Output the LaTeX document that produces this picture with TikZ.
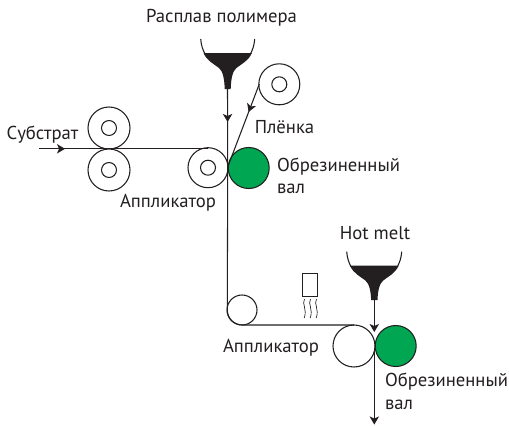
\documentclass[tikz,border=0pt]{standalone}
\usepackage{fontspec}
\setmainfont{PT Sans}
\usetikzlibrary{decorations.markings,arrows.meta}
\definecolor{rubber}{RGB}{0,166,81}
\definecolor{melt}{RGB}{35,31,32}
\tikzset{
  x=0.75pt,y=-0.75pt,
  every node/.style={inner sep=0pt,outer sep=0pt},
  roller/.style={circle,draw=melt,line width=0.8pt,fill=white,minimum size=#1*0.75pt*2},
  hub/.style={circle,draw=melt,line width=0.8pt,fill=white,minimum size=15*0.75pt},
  greenroller/.style={circle,draw=melt,line width=0.8pt,fill=rubber,minimum size=41*0.75pt},
  web/.style={draw=melt,line width=0.8pt},
  lbl/.style={font=\fontsize{14pt}{16pt}\selectfont,text=melt},
  tipstyle/.tip={Stealth[length=6pt,width=7pt,inset=1.5pt]},
  midarrow/.style={decoration={markings,mark=at position #1 with {\arrow{tipstyle}}},postaction={decorate}},
  funnelwall/.style={draw=melt,line width=0.8pt},
  funnelfill/.style={fill=melt,draw=none}
}
\begin{document}
\begin{tikzpicture}
\useasboundingbox (0,0) rectangle (509,425);
% webs (beneath rollers)
\coordinate (subIn) at (39,148.8);
\coordinate (subOut) at (208,148.8);
\coordinate (spoutA) at (227.5,88);
\coordinate (nipA) at (227.7,167);
\coordinate (filmTan) at (259.3,84);
\coordinate (cornerTop) at (227.3,310);
\coordinate (appTop) at (354,325);
\coordinate (spoutB) at (374.3,299);
\coordinate (nipB) at (374.3,332);
\coordinate (nipBlow) at (374.3,350);
\coordinate (webEnd) at (374.3,424.5);
% rollers
\node[roller=21] (nipU) at (109,128) {};
\node[hub] (nipUh) at (109,128) {};
\node[roller=21] (nipL) at (109,170) {};
\node[hub] (nipLh) at (109,170) {};
\node[roller=20] (appA) at (208,167.7) {};
\node[hub] (appAh) at (208,167.7) {};
\node[greenroller] (rubA) at (248.7,168) {};
\node[roller=20.5] (film) at (279.3,84.3) {};
\node[hub] (filmh) at (279.3,84.3) {};
\node[roller=15] (guide) at (242,310) {};
\node[roller=21] (appB) at (354,346) {};
\node[greenroller] (rubB) at (395.7,346) {};
% connectors
\draw[web,midarrow=0.154] (subIn) -- (subOut);
\draw[web,midarrow=0.43] (spoutA) -- (nipA);
\draw[web,midarrow=0.337] (filmTan) -- (nipA);
\draw[web] (nipA) -- (cornerTop) arc[start angle=180,end angle=90,radius=15] -- (appTop);
\draw[web,-tipstyle] (spoutB) -- (nipB);
\draw[web,-tipstyle] (nipBlow) -- (webEnd);
% funnel A
\draw[funnelwall] (200.7,39) .. controls (201.2,46) and (203,50) .. (205,54);
\draw[funnelwall] (254.7,39) .. controls (254.2,46) and (252.4,50) .. (250.4,54);
\fill[funnelfill] (203.5,53) -- (251.9,53) .. controls (248.4,61) and (241.4,64) .. (236.4,68)
  .. controls (232.4,71) and (230.9,80) .. (230.7,89) -- (224.7,89)
  .. controls (224.5,80) and (223,71) .. (219,68) .. controls (214,64) and (207,61) .. (203.5,53) -- cycle;
% funnel B
\draw[funnelwall] (346.7,251.7) .. controls (347.2,258.7) and (349,262.7) .. (351,266.7);
\draw[funnelwall] (401.7,251.7) .. controls (401.2,258.7) and (399.4,262.7) .. (397.4,266.7);
\fill[funnelfill] (349.9,265.5) -- (398.7,265.5) .. controls (395.2,273.5) and (388.2,276.5) .. (383.2,280.5)
  .. controls (379.2,283.5) and (377.7,292) .. (377.5,300) -- (371.1,300)
  .. controls (370.9,292) and (369.4,283.5) .. (365.4,280.5) .. controls (360.4,276.5) and (353.4,273.5) .. (349.9,265.5) -- cycle;
% heater
\node[draw=melt,line width=0.5pt,minimum width=15*0.75pt,minimum height=23.4*0.75pt] (heater) at (310.2,285) {};
\foreach \hx in {304.5,310.5,316.5}{
  \draw[draw=melt,line width=0.5pt] (\hx,299) .. controls (\hx-3,304) and (\hx+3,309) .. (\hx-0.3,318);
}
% labels
\node[lbl] (t1) at (221.5,18) {Расплав полимера};
\node[lbl] (t2) at (42.5,135) {Субстрат};
\node[lbl] (t3) at (284.5,127) {Плёнка};
\node[lbl,anchor=west] (t4) at (277,167) {Обрезиненный};
\node[lbl,anchor=west] (t5) at (277,189) {вал};
\node[lbl] (t6) at (168,202.7) {Аппликатор};
\node[lbl] (t7) at (375,233) {Hot melt};
\node[lbl] (t8) at (271,348) {Аппликатор};
\node[lbl,anchor=west] (t9) at (385,382) {Обрезиненный};
\node[lbl,anchor=west] (t10) at (385,405) {вал};
\end{tikzpicture}
\end{document}
